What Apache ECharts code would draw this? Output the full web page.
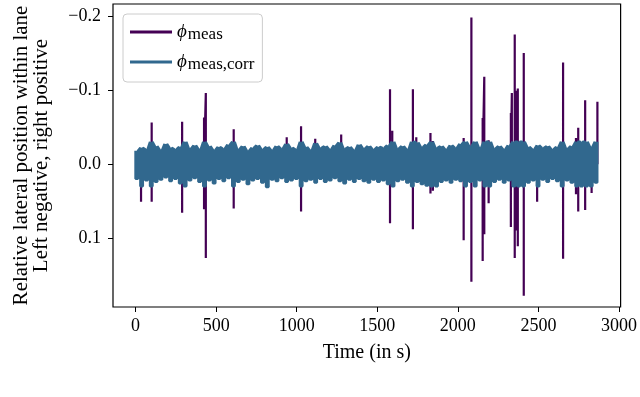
<!DOCTYPE html>
<html>
<head>
<meta charset="utf-8">
<script src="https://cdn.jsdelivr.net/npm/echarts@6/dist/echarts.min.js"></script>
<style>
  html, body { margin: 0; padding: 0; background: #fff; }
  #chart { width: 640px; height: 397px; }
</style>
</head>
<body>
<div id="chart"></div>
<script>
// sample times of the corrected signal (s)
const sampleTimes = [
  0, 30, 60, 90, 120, 150, 180, 210, 240, 270,
  300, 330, 360, 390, 420, 450, 480, 510, 540, 570,
  600, 630, 660, 690, 720, 750, 780, 810, 840, 870,
  900, 930, 960, 990, 1020, 1050, 1080, 1110, 1140, 1170,
  1200, 1230, 1260, 1290, 1320, 1350, 1380, 1410, 1440, 1470,
  1500, 1530, 1560, 1590, 1620, 1650, 1680, 1710, 1740, 1770,
  1800, 1830, 1860, 1890, 1920, 1950, 1980, 2010, 2040, 2070,
  2100, 2130, 2160, 2190, 2220, 2250, 2280, 2310, 2340, 2370,
  2400, 2430, 2460, 2490, 2520, 2550, 2580, 2610, 2640, 2670,
  2700, 2730, 2760, 2790, 2820, 2850
];
// upper / lower swing of phi_meas,corr
const corrUpper = [
  -0.018, -0.022, -0.020, -0.030, -0.024, -0.019, -0.027, -0.022, -0.020, -0.023,
  -0.030, -0.021, -0.025, -0.020, -0.030, -0.024, -0.019, -0.023, -0.021, -0.026,
  -0.030, -0.020, -0.024, -0.018, -0.022, -0.025, -0.020, -0.023, -0.019, -0.024,
  -0.021, -0.027, -0.022, -0.020, -0.030, -0.023, -0.019, -0.028, -0.022, -0.024,
  -0.020, -0.025, -0.029, -0.021, -0.023, -0.019, -0.026, -0.021, -0.024, -0.020,
  -0.023, -0.022, -0.025, -0.030, -0.021, -0.024, -0.020, -0.030, -0.029, -0.023,
  -0.026, -0.030, -0.022, -0.024, -0.020, -0.025, -0.022, -0.027, -0.030, -0.024,
  -0.030, -0.022, -0.030, -0.030, -0.021, -0.024, -0.020, -0.025, -0.030, -0.030,
  -0.030, -0.023, -0.020, -0.025, -0.022, -0.024, -0.020, -0.023, -0.030, -0.021,
  -0.024, -0.030, -0.030, -0.030, -0.023, -0.030
];
const corrLower = [
  0.020, 0.030, 0.022, 0.030, 0.024, 0.021, 0.018, 0.023, 0.020, 0.026,
  0.030, 0.022, 0.019, 0.024, 0.030, 0.022, 0.026, 0.020, 0.023, 0.019,
  0.030, 0.024, 0.021, 0.027, 0.022, 0.020, 0.025, 0.031, 0.021, 0.023,
  0.019, 0.024, 0.022, 0.020, 0.030, 0.023, 0.021, 0.025, 0.020, 0.024,
  0.022, 0.019, 0.023, 0.026, 0.021, 0.024, 0.020, 0.023, 0.025, 0.021,
  0.024, 0.022, 0.027, 0.030, 0.023, 0.021, 0.025, 0.030, 0.024, 0.027,
  0.029, 0.030, 0.030, 0.024, 0.022, 0.025, 0.021, 0.023, 0.030, 0.024,
  0.030, 0.022, 0.030, 0.030, 0.024, 0.021, 0.025, 0.022, 0.030, 0.030,
  0.030, 0.025, 0.022, 0.030, 0.021, 0.024, 0.020, 0.023, 0.030, 0.022,
  0.025, 0.030, 0.030, 0.030, 0.030, 0.025
];

// outliers of phi_meas (time, most negative, most positive)
const spikeTimes = [34, 100, 289, 425, 436, 609, 938, 1027, 1115, 1276,
  1579, 1593, 1721, 1742, 1830, 1845, 2036, 2084, 2154, 2164,
  2191, 2329, 2335, 2353, 2362, 2372, 2409, 2492, 2653, 2733,
  2747, 2790, 2830, 2866];
const spikeUp = [0, -0.056, -0.057, -0.063, -0.096, -0.047, -0.036, -0.051, -0.034, -0.040,
  -0.101, -0.045, -0.101, -0.036, -0.042, -0.031, -0.035, -0.198, -0.062, -0.118,
  -0.032, -0.069, -0.096, -0.175, -0.099, -0.102, -0.150, 0, -0.137, -0.035,
  -0.049, -0.086, 0, -0.084];
const spikeDown = [0.051, 0.051, 0.066, 0.061, 0.127, 0.060, 0, 0.064, 0, 0,
  0.080, 0, 0.088, 0, 0.040, 0.036, 0.103, 0.159, 0.131, 0.095,
  0.053, 0.085, 0, 0.127, 0.090, 0.111, 0.178, 0.051, 0.128, 0.041,
  0.064, 0.062, 0.039, 0];

const xTicks = [0, 500, 1000, 1500, 2000, 2500, 3000];
const yTicks = [-0.2, -0.1, 0.0, 0.1];

// phi_meas: flat baseline with vertical outliers
const measData = [[0, 0]];
spikeTimes.forEach((t, i) => {
  measData.push([t, 0], [t, spikeUp[i]], [t, spikeDown[i]], [t, 0]);
});
measData.push([2865, 0]);

// phi_meas,corr: dense up/down swings -> square wave so the band is filled
const corrData = [];
sampleTimes.forEach((t, i) => {
  corrData.push([t, corrUpper[i]], [t, corrLower[i]], [t + 15, corrLower[i]], [t + 15, corrUpper[i]]);
});

const serif = '"Liberation Serif", "DejaVu Serif", serif';
const purple = '#440154';
const blue = '#31688e';

const mychart = echarts.init(document.getElementById('chart'));
mychart.setOption({
  animation: false,
  backgroundColor: '#fff',
  grid: {
    left: 113, right: 18, top: 4, bottom: 90,
    show: true, borderColor: '#000', borderWidth: 1.2
  },
  legend: {
    orient: 'vertical',
    left: 123, top: 14,
    padding: [5, 8, 9, 7],
    itemWidth: 42, itemHeight: 3,
    itemGap: 6,
    itemTextGap: 13,
    icon: 'rect',
    borderColor: '#ccc', borderWidth: 1, borderRadius: 4,
    backgroundColor: 'rgba(255,255,255,0.8)',
    data: [
      { name: 'meas', itemStyle: { color: purple } },
      { name: 'meas,corr', itemStyle: { color: blue } }
    ],
    formatter: (name) => '{phi|ϕ}{sub|' + name + '}',
    textStyle: {
      fontFamily: serif,
      color: '#000',
      rich: {
        phi: { fontFamily: serif, fontStyle: 'italic', fontSize: 19, lineHeight: 22, color: '#000' },
        sub: { fontFamily: serif, fontSize: 17, lineHeight: 22, verticalAlign: 'bottom', padding: [7, 0, 0, 1], color: '#000' }
      }
    }
  },
  xAxis: {
    type: 'value',
    min: -140, max: 3010,
    name: 'Time (in s)',
    nameLocation: 'middle',
    nameGap: 36,
    nameTextStyle: { fontFamily: serif, fontSize: 20, color: '#000' },
    axisLine: { show: false, onZero: false },
    splitLine: { show: false },
    axisTick: { show: true, length: 5, lineStyle: { color: '#000' }, customValues: xTicks },
    axisLabel: {
      fontFamily: serif, fontSize: 18, color: '#000', margin: 10,
      customValues: xTicks,
      formatter: (v) => String(v)
    }
  },
  yAxis: {
    type: 'value',
    inverse: true,
    min: -0.2162, max: 0.1932,
    name: 'Relative lateral position within lane\nLeft negative, right positive',
    nameLocation: 'middle',
    nameGap: 62,
    nameTextStyle: { fontFamily: serif, fontSize: 21, lineHeight: 20, color: '#000' },
    axisLine: { show: false, onZero: false },
    splitLine: { show: false },
    axisTick: { show: true, length: 5, lineStyle: { color: '#000' }, customValues: yTicks },
    axisLabel: {
      fontFamily: serif, fontSize: 18, color: '#000', margin: 12,
      customValues: yTicks,
      formatter: (v) => (v < -1e-9 ? '\u2212' : '') + Math.abs(v).toFixed(1)
    }
  },
  series: [
    {
      name: 'meas',
      type: 'line',
      data: measData,
      showSymbol: false,
      silent: true,
      lineStyle: { color: purple, width: 2.2 },
      itemStyle: { color: purple }
    },
    {
      name: 'meas,corr',
      type: 'line',
      data: corrData,
      showSymbol: false,
      silent: true,
      lineStyle: { color: blue, width: 2.5 },
      itemStyle: { color: blue }
    }
  ]
});
</script>
</body>
</html>
